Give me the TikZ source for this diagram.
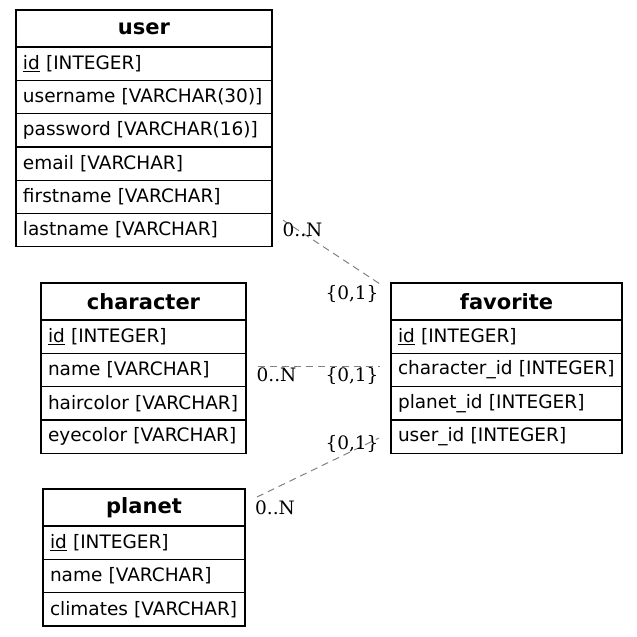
\documentclass[tikz,border=0pt]{standalone}
\usepackage{fontspec}
\newfontfamily\tablefont{DejaVu Sans}
\newfontfamily\cardfont{DejaVu Serif}
\usetikzlibrary{positioning}

\tikzset{
  tbl/.style={draw, outer sep=0pt, line width=1.2pt, inner xsep=7pt, inner ysep=0pt,
    font=\tablefont\fontsize{18.5}{22}\selectfont},
  head/.style={tbl, text width=#1, minimum height=37pt, align=center,
    font=\tablefont\bfseries\fontsize{21}{24}\selectfont},
  field/.style={tbl, text width=#1, minimum height=33.3pt, align=left},
  card/.style={font=\cardfont\fontsize{18.5}{22}\selectfont, inner sep=0pt},
  rel/.style={gray, line width=1pt, dash pattern=on 7pt off 5pt}
}

\begin{document}
\begin{tikzpicture}[x=1pt,y=1pt]
    \useasboundingbox (0,0) rectangle (637,-637);

    % Draw tables
    \node[head=242pt, anchor=north west, alias=user-0] (user) at (16,-10) {user};
    \foreach \f [count=\i, remember=\i as \j (initially 0)] in {{\underline{id} [INTEGER]},
        {username [VARCHAR(30)]}, {password [VARCHAR(16)]}, {email [VARCHAR]},
        {firstname [VARCHAR]}, {lastname [VARCHAR]}}
        \node[field=242pt, below=0pt of user-\j] (user-\i) {\f};

    \node[head=191pt, anchor=north west, alias=character-0] (character) at (41,-283) {character};
    \foreach \f [count=\i, remember=\i as \j (initially 0)] in {{\underline{id} [INTEGER]},
        {name [VARCHAR]}, {haircolor [VARCHAR]}, {eyecolor [VARCHAR]}}
        \node[field=191pt, below=0pt of character-\j] (character-\i) {\f};

    \node[head=188pt, anchor=north west, alias=planet-0] (planet) at (43,-489) {planet};
    \foreach \f [count=\i, remember=\i as \j (initially 0)] in {{\underline{id} [INTEGER]},
        {name [VARCHAR]}, {climates [VARCHAR]}}
        \node[field=188pt, below=0pt of planet-\j] (planet-\i) {\f};

    \node[head=217pt, anchor=north west, alias=favorite-0] (favorite) at (391,-283) {favorite};
    \foreach \f [count=\i, remember=\i as \j (initially 0)] in {{\underline{id} [INTEGER]},
        {character\_id [INTEGER]}, {planet\_id [INTEGER]}, {user\_id [INTEGER]}}
        \node[field=217pt, below=0pt of favorite-\j] (favorite-\i) {\f};

    % Draw relations
    \draw[rel] ([shift={(11pt,10pt)}]user-6.east) -- ([shift={(-11pt,-1pt)}]favorite.north west);
    \draw[rel] ([shift={(12pt,3pt)}]character-2.east) -- ([shift={(-11pt,3pt)}]favorite-2.west);
    \draw[rel] ([shift={(12pt,10.5pt)}]planet.east) -- ([shift={(-12pt,-1.5pt)}]favorite-4.west);

    % Cardinalities
    \node[card] (user-card) at (302.5,-229.5) {0..N};
    \node[card] (fav-user-card) at (352,-294) {\{0,1\}};
    \node[card] (character-card) at (276.5,-375) {0..N};
    \node[card] (fav-character-card) at (352,-376) {\{0,1\}};
    \node[card] (fav-planet-card) at (352,-444) {\{0,1\}};
    \node[card] (planet-card) at (275,-508) {0..N};
\end{tikzpicture}
\end{document}
